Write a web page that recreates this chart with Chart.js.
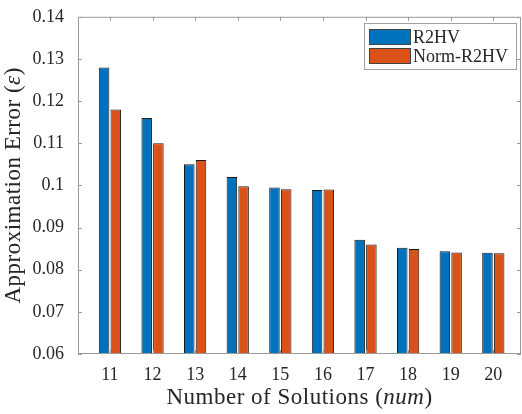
<!DOCTYPE html>
<html>
<head>
<meta charset="utf-8">
<script src="https://cdn.jsdelivr.net/npm/chart.js@4.4.1/dist/chart.umd.min.js"></script>
<style>
  html, body { margin: 0; padding: 0; background: #fff; }
  #wrap { width: 522px; height: 414px; }
</style>
</head>
<body>
<div id="wrap"><canvas id="errChart" width="522" height="414"></canvas></div>
<script>
// Data
const solutions = [11, 12, 13, 14, 15, 16, 17, 18, 19, 20];
const r2hv = [0.128, 0.116, 0.105, 0.102, 0.0995, 0.0989, 0.0871, 0.0852, 0.0844, 0.0840];
const normR2hv = [0.118, 0.110, 0.106, 0.0998, 0.0991, 0.0990, 0.0860, 0.0849, 0.0841, 0.0839];
const yTicks = [0.06, 0.07, 0.08, 0.09, 0.1, 0.11, 0.12, 0.13, 0.14];

const serif = '"Liberation Serif", "Times New Roman", serif';
const textColor = '#262626';
const axisColor = '#9a9a9a';

// MATLAB-like box with inward ticks, axis titles and legend
const matlabAxes = {
    id: 'matlabAxes',
    afterDraw(chart) {
        const ctx = chart.ctx;
        const area = chart.chartArea;
        const x = chart.scales.x;
        const y = chart.scales.y;
        const tick = 4;

        ctx.save();
        ctx.strokeStyle = axisColor;
        ctx.lineWidth = 1;
        ctx.strokeRect(area.left + 0.5, area.top + 0.5, area.right - area.left - 1, area.bottom - area.top - 1);

        ctx.beginPath();
        solutions.forEach(v => {
            const px = Math.round(x.getPixelForValue(v)) + 0.5;
            ctx.moveTo(px, area.bottom); ctx.lineTo(px, area.bottom - tick);
            ctx.moveTo(px, area.top); ctx.lineTo(px, area.top + tick);
        });
        yTicks.forEach(v => {
            const py = Math.round(y.getPixelForValue(v)) + 0.5;
            ctx.moveTo(area.left, py); ctx.lineTo(area.left + tick, py);
            ctx.moveTo(area.right, py); ctx.lineTo(area.right - tick, py);
        });
        ctx.stroke();

        // axis titles with italic symbols
        ctx.fillStyle = textColor;
        ctx.textBaseline = 'middle';
        ctx.letterSpacing = '0.5px';
        const drawParts = (parts, cx, cy) => {
            let total = 0;
            parts.forEach(p => { ctx.font = p[1] + ' 23px ' + serif; total += ctx.measureText(p[0]).width; });
            let cur = cx - total / 2;
            ctx.textAlign = 'left';
            parts.forEach(p => {
                ctx.font = p[1] + ' 23px ' + serif;
                ctx.fillText(p[0], cur, cy);
                cur += ctx.measureText(p[0]).width;
            });
        };
        drawParts([['Number of Solutions (', 'normal'], ['num', 'italic'], [')', 'normal']], (area.left + area.right) / 2, 398);

        ctx.save();
        ctx.translate(14, (area.top + area.bottom) / 2);
        ctx.rotate(-Math.PI / 2);
        drawParts([['Approximation Error (', 'normal'], ['\u03b5', 'italic'], [')', 'normal']], 0, 0);
        ctx.restore();
        ctx.letterSpacing = '0px';

        // legend box
        const lx = 364, ly = 23, lw = 152, lh = 46;
        ctx.fillStyle = '#fff';
        ctx.fillRect(lx, ly, lw, lh);
        ctx.strokeStyle = '#a0a0a0';
        ctx.strokeRect(lx + 0.5, ly + 0.5, lw, lh);
        chart.data.datasets.forEach((ds, i) => {
            const sy = ly + 6 + i * 19;
            ctx.fillStyle = ds.backgroundColor;
            ctx.fillRect(369, sy, 42, 16);
            ctx.strokeStyle = '#444';
            ctx.strokeRect(369.5, sy + 0.5, 41, 15);
            ctx.fillStyle = textColor;
            ctx.font = '18px ' + serif;
            ctx.textAlign = 'left';
            ctx.fillText(ds.label, 413, sy + 9);
        });
        ctx.restore();
    }
};

const ctx = document.getElementById('errChart').getContext('2d');
new Chart(ctx, {
    type: 'bar',
    data: {
        datasets: [{
            label: 'R2HV',
            data: solutions.map((s, i) => ({ x: s, y: r2hv[i] })),
            backgroundColor: '#0072BD',
            borderColor: '#1a1a1a',
            borderWidth: 1,
            barPercentage: 0.9,
            categoryPercentage: 0.55
        }, {
            label: 'Norm-R2HV',
            data: solutions.map((s, i) => ({ x: s, y: normR2hv[i] })),
            backgroundColor: '#D95319',
            borderColor: '#1a1a1a',
            borderWidth: 1,
            barPercentage: 0.9,
            categoryPercentage: 0.55
        }]
    },
    options: {
        responsive: false,
        animation: false,
        layout: { padding: { top: 12, right: 1, left: 0, bottom: 0 } },
        plugins: {
            legend: { display: false },
            tooltip: { enabled: false }
        },
        scales: {
            x: {
                type: 'linear',
                min: 10.25,
                max: 20.65,
                offset: false,
                afterFit(scale) { scale.height = 60; },
                afterBuildTicks(scale) { scale.ticks = solutions.map(v => ({ value: v })); },
                grid: { display: false },
                border: { display: false },
                ticks: {
                    color: textColor,
                    font: { family: serif, size: 18 },
                    padding: 2,
                    maxRotation: 0,
                    callback: v => String(v)
                }
            },
            y: {
                min: 0.06,
                max: 0.14,
                afterFit(scale) { scale.width = 78; },
                afterBuildTicks(scale) { scale.ticks = yTicks.map(v => ({ value: v })); },
                grid: { display: false },
                border: { display: false },
                ticks: {
                    color: textColor,
                    font: { family: serif, size: 18 },
                    padding: 6,
                    callback: v => String(Number(v.toFixed(2)))
                }
            }
        }
    },
    plugins: [matlabAxes]
});
</script>
</body>
</html>
